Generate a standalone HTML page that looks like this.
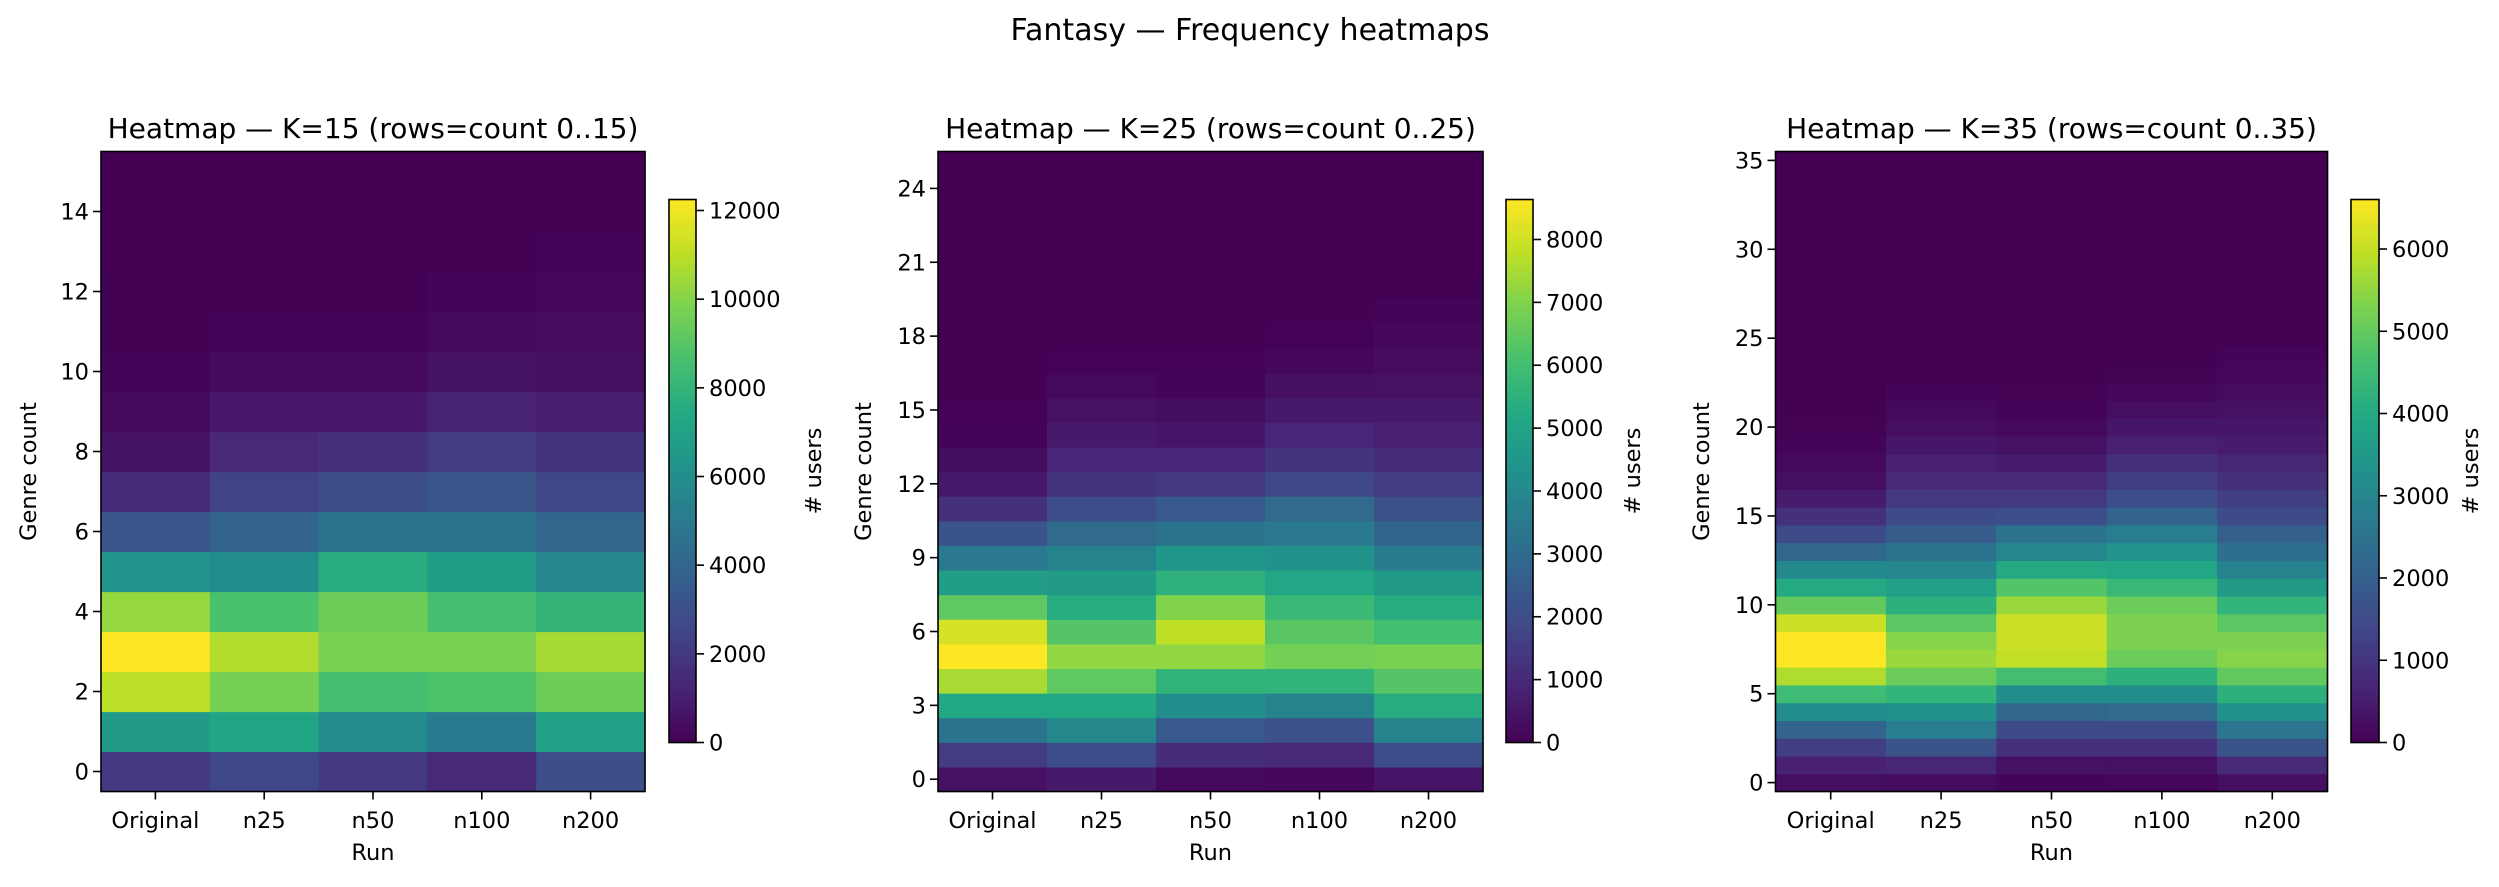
<!DOCTYPE html>
<html><head><meta charset="utf-8"><style>
html,body{margin:0;padding:0;background:#fff;}
svg{display:block;font-family:"DejaVu Sans","Liberation Sans",sans-serif;}
</style></head><body>
<svg id="fig" width="2499" height="887" viewBox="0 0 2499 887" xmlns="http://www.w3.org/2000/svg">
<text x="1250" y="40" font-size="30" text-anchor="middle" fill="#000">Fantasy — Frequency heatmaps</text>
</svg>
<script>
const runs = ["Original","n25","n50","n100","n200"];
// K=15 rows 0..15, each row: [Original,n25,n50,n100,n200]
const k15Values = [
[2000,2600,2000,1400,2900],[6600,7200,5800,5000,7000],[11000,9700,8600,8800,9500],
[12248,10800,9800,9800,10600],[10300,8700,9500,8600,8000],[6300,5900,7600,6800,5600],
[3300,3900,4700,4700,4000],[1500,2400,2900,3300,2600],[600,1400,1700,2200,1800],
[300,800,800,1200,1000],[100,300,300,600,500],[50,100,100,300,350],
[20,50,50,100,200],[0,20,20,50,100],[0,0,0,20,40],[0,0,0,0,10]];
const k25Values = [
[400,600,200,150,500],[1500,2000,1100,1000,2000],[3300,4000,2400,2100,3800],
[5200,5200,4200,3800,5300],[7500,6500,5600,5600,6300],[8636,7200,7200,6800,6900],
[8100,6300,7800,6400,6000],[6500,5300,7000,5800,5300],[4800,4700,5500,5100,4600],
[3500,3800,4500,4400,3600],[2200,3000,3300,3500,2800],[1200,2000,2400,3000,2100],
[600,1300,1400,1900,1500],[300,900,900,1300,1100],[100,600,500,900,800],
[50,400,300,600,600],[20,200,100,350,400],[0,50,50,150,250],[0,20,20,60,150],
[0,0,0,30,80],[0,0,0,10,30],[0,0,0,0,10],[0,0,0,0,0],[0,0,0,0,0],[0,0,0,0,0],[0,0,0,0,0]];
const k35Values = [
[250,200,80,100,250],[600,700,300,300,800],[1200,1700,900,900,1700],
[2100,2800,1500,1500,2600],[3200,3300,2200,2300,3300],[4500,4300,3200,3200,4200],
[5800,5100,4600,4200,5000],[6602,5600,6000,5100,5400],[6602,5400,6100,5300,5300],
[6100,4900,6100,5300,4900],[5000,4200,5600,5100,4300],[4000,3700,4800,4400,3600],
[3100,3000,4000,3900,2900],[2200,2500,3000,3400,2400],[1500,1900,2500,2800,2000],
[900,1500,1600,2100,1500],[500,1100,1100,1600,1200],[250,800,800,1200,900],
[150,600,500,900,700],[60,400,300,600,500],[30,250,150,400,400],[10,150,80,250,300],
[0,60,30,120,200],[0,20,10,50,120],[0,0,0,20,60],[0,0,0,0,20],
[0,0,0,0,0],[0,0,0,0,0],[0,0,0,0,0],[0,0,0,0,0],[0,0,0,0,0],[0,0,0,0,0],[0,0,0,0,0],[0,0,0,0,0],[0,0,0,0,0],[0,0,0,0,0]];
const k15YTicks = [0,2,4,6,8,10,12,14];
const k25YTicks = [0,3,6,9,12,15,18,21,24];
const k35YTicks = [0,5,10,15,20,25,30,35];
const k15CbTicks = [0,2000,4000,6000,8000,10000,12000];
const k25CbTicks = [0,1000,2000,3000,4000,5000,6000,7000,8000];
const k35CbTicks = [0,1000,2000,3000,4000,5000,6000];

const VIR=["#440154","#482475","#414487","#355f8d","#2a788e","#21918c","#22a884","#44bf70","#7ad151","#bddf26","#fde725"];
function hex(h){return [1,3,5].map(i=>parseInt(h.substr(i,2),16));}
function viridis(t){t=Math.max(0,Math.min(1,t));const p=t*10,i=Math.min(9,Math.floor(p)),f=p-i;
const a=hex(VIR[i]),b=hex(VIR[i+1]);return "rgb("+a.map((v,k)=>Math.round(v+(b[k]-v)*f)).join(",")+")";}
const NS="http://www.w3.org/2000/svg";
const svg=document.getElementById("fig");
function el(tag,attrs,parent,text){const e=document.createElementNS(NS,tag);for(const k in attrs)e.setAttribute(k,attrs[k]);if(text!==undefined)e.textContent=text;(parent||svg).appendChild(e);return e;}

const panels=[
 {K:15,vals:k15Values,yt:k15YTicks,cbt:k15CbTicks,ax:[101,645],cb:[669,696],ylab:28,cblab:813},
 {K:25,vals:k25Values,yt:k25YTicks,cbt:k25CbTicks,ax:[938,1483],cb:[1506,1533],ylab:863,cblab:1632},
 {K:35,vals:k35Values,yt:k35YTicks,cbt:k35CbTicks,ax:[1775.5,2327.5],cb:[2351,2379],ylab:1701,cblab:2470}];
const TOP=151.5,BOT=791.5,CBT=199.5,CBB=742.5;

panels.forEach(p=>{
 const g=el("g",{});
 
 
 const n=p.vals.length, nx=runs.length;
 let vmax=0;p.vals.forEach(r=>r.forEach(v=>{if(v>vmax)vmax=v;}));
 const xS=i=>p.ax[0]+(i+0.5)*(p.ax[1]-p.ax[0])/nx;
 const yS=v=>BOT-(v+0.5)*(BOT-TOP)/n;
 const cw=(p.ax[1]-p.ax[0])/nx, ch=(BOT-TOP)/n;
 p.vals.forEach((row,ri)=>row.forEach((v,ci)=>{
  const r=el("rect",{x:(xS(ci)-cw/2).toFixed(2),y:(yS(ri)-ch/2).toFixed(2),width:(cw+0.6).toFixed(2),height:(ch+0.6).toFixed(2),fill:viridis(v/vmax)},g);
  
  
 }));
 const fr=el("rect",{x:p.ax[0],y:TOP,width:p.ax[1]-p.ax[0],height:BOT-TOP,fill:"none",stroke:"#000","stroke-width":1.6},g);
 
 
 runs.forEach((r,i)=>{
  el("line",{x1:xS(i),x2:xS(i),y1:BOT,y2:BOT+8,stroke:"#000","stroke-width":1.6},g);
  const t=el("text",{x:xS(i),y:828,"font-size":22.5,"text-anchor":"middle"},g,r);
  
  
 });
 p.yt.forEach(v=>{
  el("line",{x1:p.ax[0]-8,x2:p.ax[0],y1:yS(v),y2:yS(v),stroke:"#000","stroke-width":1.6},g);
  const t=el("text",{x:p.ax[0]-12,y:yS(v)+8,"font-size":22.5,"text-anchor":"end"},g,String(v));
  
  
 });
 const cx=(p.ax[0]+p.ax[1])/2;
 const tt=el("text",{x:cx,y:138,"font-size":28,"text-anchor":"middle"},g,"Heatmap — K="+p.K+" (rows=count 0.."+p.K+")");
 
 
 const xl=el("text",{x:cx,y:860,"font-size":22.5,"text-anchor":"middle"},g,"Run");
 
 
 const yl=el("text",{x:p.ylab,y:(TOP+BOT)/2,"font-size":22.5,"text-anchor":"middle",transform:"rotate(-90 "+p.ylab+" "+(TOP+BOT)/2+")",dy:"8"},g,"Genre count");
 
 
 const cbg=el("g",{},g);
 
 
 const steps=120;
 for(let s=0;s<steps;s++){const y0=CBB-(s+1)*(CBB-CBT)/steps;
  el("rect",{x:p.cb[0],y:y0.toFixed(2),width:p.cb[1]-p.cb[0],height:((CBB-CBT)/steps+0.6).toFixed(2),fill:viridis((s+0.5)/steps)},cbg);}
 el("rect",{x:p.cb[0],y:CBT,width:p.cb[1]-p.cb[0],height:CBB-CBT,fill:"none",stroke:"#000","stroke-width":1.6},cbg);
 const cbY=v=>CBB-v/vmax*(CBB-CBT);
 p.cbt.forEach(v=>{
  el("line",{x1:p.cb[1],x2:p.cb[1]+8,y1:cbY(v),y2:cbY(v),stroke:"#000","stroke-width":1.6},cbg);
  const t=el("text",{x:p.cb[1]+13,y:cbY(v)+8,"font-size":22.5},cbg,String(v));
  
  
 });
 const cl=el("text",{x:p.cblab,y:(CBT+CBB)/2,"font-size":22.5,"text-anchor":"middle",transform:"rotate(-90 "+p.cblab+" "+(CBT+CBB)/2+")",dy:"8"},cbg,"# users");
 
 
});
</script>
</body></html>
